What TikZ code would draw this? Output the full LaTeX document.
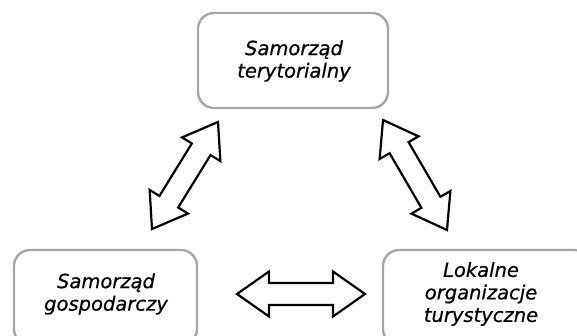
\documentclass[tikz,border=0pt]{standalone}
\usepackage{fontspec}
\setmainfont{DejaVu Sans}
\newfontfamily\lblfont[ItalicFeatures={FakeBold=0.6}]{DejaVu Sans}
\usetikzlibrary{calc}
\definecolor{boxgray}{HTML}{A6A6A6}
\tikzset{
  box/.style={draw=boxgray, line width=2.4pt, rounded corners=16pt},
  lbl/.style={align=center, font=\lblfont\fontsize{19.5}{22.5}\selectfont\itshape, inner sep=0pt},
  arr/.style={draw=black, line width=2.2pt, fill=white, line join=miter}
}
% double block arrow between two named coordinates
\newcommand{\blockarrow}[2]{%
  \path[arr] (#1)
    -- ($($(#1)!32pt!(#2)$)!22.5pt!90:(#2)$)
    -- ($($(#1)!32pt!(#2)$)!11pt!90:(#2)$)
    -- ($($(#2)!32pt!(#1)$)!11pt!-90:(#1)$)
    -- ($($(#2)!32pt!(#1)$)!22.5pt!-90:(#1)$)
    -- (#2)
    -- ($($(#2)!32pt!(#1)$)!22.5pt!90:(#1)$)
    -- ($($(#2)!32pt!(#1)$)!11pt!90:(#1)$)
    -- ($($(#1)!32pt!(#2)$)!11pt!-90:(#2)$)
    -- ($($(#1)!32pt!(#2)$)!22.5pt!-90:(#2)$)
    -- cycle;}
\begin{document}
\begin{tikzpicture}[x=1pt,y=-1pt]
\useasboundingbox (0,0) rectangle (577,336);
% boxes
\draw[box] (198,13) rectangle (388,108);
\draw[box] (14,250) rectangle (197,345);
\draw[box] (383,250) rectangle (590,345);
% labels
\node[lbl] (top) at (294,61) {Samorząd\\terytorialny};
\node[lbl] (left) at (106,294) {Samorząd\\gospodarczy};
\node[lbl] (right) at (481,294) {Lokalne\\organizacje\\turystyczne};
% arrow end points
\coordinate (a1) at (152,229);
\coordinate (a2) at (218,122);
\coordinate (b1) at (383,120);
\coordinate (b2) at (447,230);
\coordinate (c1) at (237,294);
\coordinate (c2) at (365,294);
\blockarrow{a1}{a2}
\blockarrow{b1}{b2}
\blockarrow{c1}{c2}
\end{tikzpicture}
\end{document}
